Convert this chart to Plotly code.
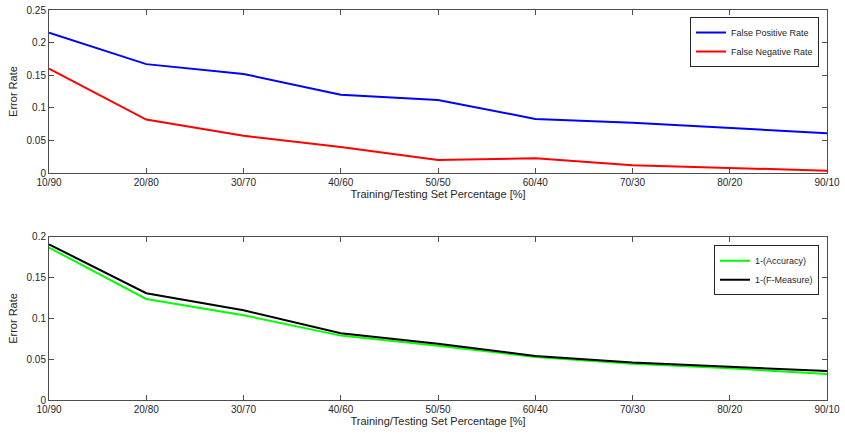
import plotly.graph_objects as go

categories = ["10/90", "20/80", "30/70", "40/60", "50/50", "60/40", "70/30", "80/20", "90/10"]
fpr = [0.215, 0.167, 0.152, 0.120, 0.112, 0.083, 0.077, 0.0695, 0.061]
fnr = [0.160, 0.082, 0.057, 0.040, 0.020, 0.0225, 0.012, 0.0077, 0.0036]
one_minus_acc = [0.187, 0.124, 0.104, 0.079, 0.0666, 0.0528, 0.0445, 0.0388, 0.032]
one_minus_f = [0.191, 0.131, 0.110, 0.082, 0.069, 0.054, 0.046, 0.041, 0.0356]

font = dict(family="Liberation Sans, Arial, sans-serif", size=10, color="#262626")

fig = go.Figure()
fig.add_trace(go.Scatter(x=categories, y=fpr, mode="lines", name="False Positive Rate",
                         line=dict(color="#0000ff", width=2), xaxis="x", yaxis="y", legend="legend"))
fig.add_trace(go.Scatter(x=categories, y=fnr, mode="lines", name="False Negative Rate",
                         line=dict(color="#ff0000", width=2), xaxis="x", yaxis="y", legend="legend"))
fig.add_trace(go.Scatter(x=categories, y=one_minus_acc, mode="lines", name="1-(Accuracy)",
                         line=dict(color="#00ff00", width=2), xaxis="x2", yaxis="y2", legend="legend2"))
fig.add_trace(go.Scatter(x=categories, y=one_minus_f, mode="lines", name="1-(F-Measure)",
                         line=dict(color="#000000", width=2), xaxis="x2", yaxis="y2", legend="legend2"))

axcommon = dict(showline=True, linecolor="#4d4d4d", linewidth=1, mirror="ticks", ticks="inside",
                ticklen=5, tickcolor="#4d4d4d", showgrid=False, zeroline=False, automargin=False,
                tickfont=dict(size=10, color="#262626"))

xax = dict(axcommon, type="category", categoryorder="array", categoryarray=categories,
           range=[0, 8], title=dict(text="Training/Testing Set Percentage [%]", font=dict(size=11), standoff=3))

fig.update_layout(
    width=845, height=439,
    margin=dict(l=49, r=18, t=10, b=39, autoexpand=False),
    paper_bgcolor="white", plot_bgcolor="white",
    font=font,
    showlegend=True,
    xaxis=dict(xax, domain=[0, 1], anchor="y"),
    yaxis=dict(axcommon, domain=[0.582, 1.0], range=[0, 0.25], dtick=0.05, anchor="x",
               title=dict(text="Error Rate", font=dict(size=11), standoff=6)),
    xaxis2=dict(xax, domain=[0, 1], anchor="y2"),
    yaxis2=dict(axcommon, domain=[0, 0.418], range=[0, 0.2], dtick=0.05, anchor="x2",
                title=dict(text="Error Rate", font=dict(size=11), standoff=6)),
    legend=dict(x=0.9897, y=0.982, xref="paper", yref="paper", xanchor="right", yanchor="top",
                bordercolor="#262626", borderwidth=1, bgcolor="white",
                font=dict(size=9), tracegroupgap=0, itemwidth=30),
    legend2=dict(x=0.9897, y=0.397, xref="paper", yref="paper", xanchor="right", yanchor="top",
                 bordercolor="#262626", borderwidth=1, bgcolor="white",
                 font=dict(size=9), tracegroupgap=0, itemwidth=30),
)

fig.write_html("out.html")
